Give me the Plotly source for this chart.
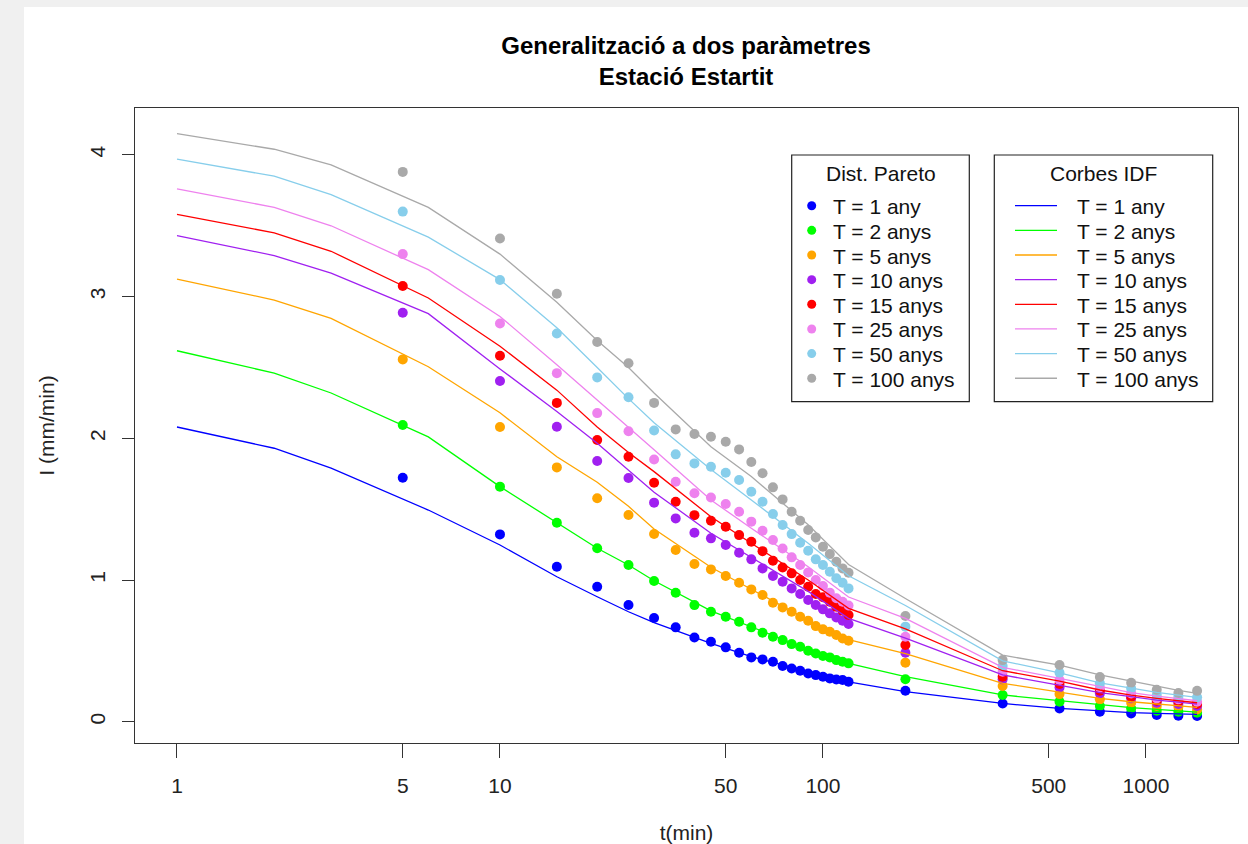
import plotly.graph_objects as go

# ---------------- data ----------------
t_points = [5, 10, 15, 20, 25, 30, 35, 40, 45, 50, 55, 60, 65, 70, 75, 80, 85, 90,
            95, 100, 105, 110, 115, 120, 180, 360, 540, 720, 900, 1080, 1260, 1440]
t_curve = [1, 2, 3, 6, 10, 15, 20, 25, 30, 45, 60, 90, 120, 180, 360, 540, 720,
           900, 1080, 1260, 1440]

labels = ["T = 1 any", "T = 2 anys", "T = 5 anys", "T = 10 anys",
          "T = 15 anys", "T = 25 anys", "T = 50 anys", "T = 100 anys"]
colors = ["#0000FF", "#00FF00", "#FFA500", "#A020F0",
          "#FF0000", "#EE82EE", "#87CEEB", "#A9A9A9"]

# Dist. Pareto (points)
pareto_T1 = [1.722, 1.322, 1.094, 0.953, 0.824, 0.732, 0.666, 0.595, 0.565, 0.525, 0.487, 0.454,
             0.440, 0.423, 0.393, 0.376, 0.360, 0.341, 0.329, 0.317, 0.306, 0.298, 0.294, 0.282,
             0.219, 0.129, 0.094, 0.071, 0.059, 0.047, 0.042, 0.040]
pareto_T2 = [2.094, 1.659, 1.404, 1.224, 1.106, 0.993, 0.910, 0.823, 0.776, 0.741, 0.706, 0.666,
             0.628, 0.600, 0.576, 0.548, 0.529, 0.501, 0.482, 0.464, 0.454, 0.435, 0.423, 0.412,
             0.300, 0.189, 0.141, 0.111, 0.094, 0.078, 0.071, 0.064]
pareto_T5 = [2.557, 2.080, 1.795, 1.577, 1.459, 1.325, 1.212, 1.113, 1.075, 1.028, 0.981, 0.934,
             0.894, 0.840, 0.807, 0.776, 0.741, 0.713, 0.675, 0.652, 0.635, 0.612, 0.588, 0.572,
             0.417, 0.252, 0.195, 0.158, 0.134, 0.111, 0.106, 0.087]
pareto_T10 = [2.886, 2.404, 2.082, 1.840, 1.720, 1.546, 1.435, 1.334, 1.294, 1.247, 1.193, 1.146,
              1.082, 1.028, 0.988, 0.941, 0.901, 0.859, 0.824, 0.793, 0.765, 0.736, 0.713, 0.690,
              0.487, 0.299, 0.242, 0.200, 0.165, 0.134, 0.125, 0.111]
pareto_T15 = [3.075, 2.583, 2.250, 1.988, 1.870, 1.686, 1.552, 1.458, 1.418, 1.376, 1.317, 1.270,
              1.204, 1.136, 1.089, 1.047, 1.000, 0.953, 0.901, 0.878, 0.847, 0.812, 0.784, 0.753,
              0.541, 0.318, 0.266, 0.219, 0.177, 0.148, 0.141, 0.125]
pareto_T25 = [3.300, 2.810, 2.460, 2.178, 2.050, 1.850, 1.694, 1.612, 1.583, 1.536, 1.482, 1.412,
              1.348, 1.282, 1.223, 1.160, 1.106, 1.054, 1.000, 0.958, 0.911, 0.871, 0.847, 0.820,
              0.600, 0.353, 0.294, 0.242, 0.200, 0.165, 0.158, 0.141]
pareto_T50 = [3.600, 3.117, 2.740, 2.430, 2.290, 2.055, 1.887, 1.823, 1.800, 1.757, 1.706, 1.623,
              1.553, 1.466, 1.388, 1.324, 1.263, 1.207, 1.146, 1.106, 1.059, 1.012, 0.981, 0.941,
              0.671, 0.393, 0.346, 0.271, 0.235, 0.188, 0.177, 0.172]
pareto_T100 = [3.880, 3.410, 3.020, 2.680, 2.530, 2.250, 2.063, 2.030, 2.011, 1.976, 1.922, 1.833,
               1.753, 1.654, 1.569, 1.482, 1.418, 1.353, 1.301, 1.235, 1.183, 1.129, 1.082, 1.052,
               0.746, 0.435, 0.400, 0.316, 0.275, 0.226, 0.203, 0.218]

# Corbes IDF (lines)
idf_T1 = [2.080, 1.930, 1.790, 1.494, 1.247, 1.023, 0.882, 0.776, 0.700, 0.553, 0.459, 0.353,
          0.282, 0.212, 0.129, 0.094, 0.075, 0.064, 0.059, 0.054, 0.052]
idf_T2 = [2.618, 2.460, 2.320, 2.010, 1.659, 1.404, 1.224, 1.106, 0.995, 0.783, 0.670, 0.510,
          0.412, 0.318, 0.189, 0.148, 0.118, 0.099, 0.087, 0.078, 0.068]
idf_T5 = [3.124, 2.976, 2.847, 2.505, 2.180, 1.870, 1.690, 1.520, 1.360, 1.090, 0.935, 0.717,
          0.580, 0.480, 0.271, 0.212, 0.165, 0.141, 0.125, 0.111, 0.101]
idf_T10 = [3.430, 3.290, 3.165, 2.880, 2.490, 2.190, 1.965, 1.776, 1.620, 1.330, 1.160, 0.920,
           0.730, 0.590, 0.330, 0.259, 0.205, 0.177, 0.153, 0.139, 0.125]
idf_T15 = [3.580, 3.450, 3.320, 2.990, 2.650, 2.340, 2.080, 1.900, 1.765, 1.447, 1.259, 1.000,
           0.800, 0.655, 0.360, 0.287, 0.224, 0.188, 0.165, 0.148, 0.134]
idf_T25 = [3.760, 3.630, 3.500, 3.190, 2.860, 2.520, 2.270, 2.080, 1.920, 1.565, 1.365, 1.094,
           0.880, 0.730, 0.384, 0.306, 0.247, 0.205, 0.181, 0.165, 0.148]
idf_T50 = [3.970, 3.850, 3.720, 3.420, 3.120, 2.780, 2.500, 2.280, 2.110, 1.780, 1.565, 1.260,
           1.030, 0.820, 0.430, 0.345, 0.275, 0.237, 0.207, 0.188, 0.172]
idf_T100 = [4.150, 4.040, 3.930, 3.630, 3.300, 2.960, 2.690, 2.500, 2.320, 1.940, 1.730, 1.390,
            1.110, 0.870, 0.470, 0.400, 0.330, 0.285, 0.248, 0.222, 0.200]

x_tickvals = [1, 5, 10, 50, 100, 500, 1000]
x_ticktext = ["1", "5", "10", "50", "100", "500", "1000"]
y_tickvals = [0, 1, 2, 3, 4]
y_ticktext = ["0", "1", "2", "3", "4"]

title_line1 = "Generalització a dos paràmetres"
title_line2 = "Estació Estartit"

pareto = [pareto_T1, pareto_T2, pareto_T5, pareto_T10, pareto_T15, pareto_T25, pareto_T50, pareto_T100]
idf = [idf_T1, idf_T2, idf_T5, idf_T10, idf_T15, idf_T25, idf_T50, idf_T100]

# ---------------- figure ----------------
W, H = 1248, 844
ML, MR, MT, MB = 135, 10, 108, 101
PW, PH = W - ML - MR, H - MT - MB
FONT = "Liberation Sans, Arial, Helvetica, sans-serif"


def fx(px):
    return (px - ML) / PW


def fy(py):
    return (H - MB - py) / PH


fig = go.Figure()

for name, col, vals in zip(labels, colors, pareto):
    fig.add_trace(go.Scatter(x=t_points, y=vals, mode="markers", name=name,
                             marker=dict(color=col, size=10, line=dict(width=0)),
                             legendgroup="pareto"))
for name, col, vals in zip(labels, colors, idf):
    fig.add_trace(go.Scatter(x=t_curve, y=vals, mode="lines", name=name,
                             line=dict(color=col, width=1.3), legendgroup="idf"))

shapes = []
annotations = []

# light grey screen border (top/left)
shapes.append(dict(type="rect", xref="paper", yref="paper", layer="below",
                   x0=fx(24), x1=fx(W + 20), y0=fy(H + 20), y1=fy(7),
                   fillcolor="white", line=dict(width=0)))

# manual legends (two boxes like R's legend())
box_top, box_bot = 155, 401.7
row0, drow = 205.7, 24.65
boxes = [
    dict(x0=791.7, x1=969.3, title="Dist. Pareto", kind="dot", sym=811.7, text=832.7),
    dict(x0=994.3, x1=1212.7, title="Corbes IDF", kind="line", sym=(1015, 1057), text=1076.7),
]
for b in boxes:
    shapes.append(dict(type="rect", xref="paper", yref="paper",
                       x0=fx(b["x0"]), x1=fx(b["x1"]), y0=fy(box_bot), y1=fy(box_top),
                       fillcolor="white", line=dict(color="#222", width=1.2)))
    annotations.append(dict(xref="paper", yref="paper", x=fx((b["x0"] + b["x1"]) / 2),
                            y=fy(173.3), text=b["title"], showarrow=False,
                            xanchor="center", yanchor="middle",
                            font=dict(size=21, family=FONT, color="#111")))
    for i, (name, col) in enumerate(zip(labels, colors)):
        ry = row0 + i * drow
        if b["kind"] == "dot":
            r = 4.5
            shapes.append(dict(type="circle", xref="paper", yref="paper",
                               x0=fx(b["sym"] - r), x1=fx(b["sym"] + r),
                               y0=fy(ry + r), y1=fy(ry - r),
                               fillcolor=col, line=dict(width=0)))
        else:
            shapes.append(dict(type="line", xref="paper", yref="paper",
                               x0=fx(b["sym"][0]), x1=fx(b["sym"][1]), y0=fy(ry), y1=fy(ry),
                               line=dict(color=col, width=1.3)))
        annotations.append(dict(xref="paper", yref="paper", x=fx(b["text"] - 2), y=fy(ry + 1),
                                text=name, showarrow=False, xanchor="left", yanchor="middle",
                                font=dict(size=21, family=FONT, color="#111")))

fig.update_layout(
    width=W, height=H,
    margin=dict(l=ML, r=MR, t=MT, b=MB, pad=0, autoexpand=False),
    paper_bgcolor="#f0f0f0", plot_bgcolor="white",
    showlegend=False,
    font=dict(family=FONT, size=21, color="#111"),
    title=dict(text="<b>" + title_line1 + "</b><br><b>" + title_line2 + "</b>",
               x=fx(686), xref="paper", xanchor="center",
               y=1 - 53.5 / H, yref="container", yanchor="middle",
               font=dict(size=24, family=FONT, color="black")),
    shapes=shapes,
    annotations=annotations,
)

fig.update_xaxes(type="log", range=[-0.130, 3.285], tickvals=x_tickvals, ticktext=x_ticktext,
                 automargin=False,
                 ticks="outside", ticklen=14, tickwidth=1.2, tickcolor="#333",
                 showline=True, mirror=True, linecolor="#333", linewidth=1.3,
                 showgrid=False, zeroline=False, ticklabelstandoff=10,
                 tickfont=dict(size=21, family=FONT, color="#222"),
                 title=dict(text="t(min)", standoff=30, font=dict(size=21, family=FONT, color="#222")))
fig.update_yaxes(range=[-0.150, 4.331], tickvals=y_tickvals, ticktext=y_ticktext,
                 automargin=False,
                 tickangle=-90,
                 ticks="outside", ticklen=12, tickwidth=1.2, tickcolor="#333",
                 showline=True, mirror=True, linecolor="#333", linewidth=1.3,
                 showgrid=False, zeroline=False, ticklabelstandoff=8,
                 tickfont=dict(size=21, family=FONT, color="#222"),
                 title=dict(text="I (mm/min)", standoff=26, font=dict(size=21, family=FONT, color="#222")))

fig.write_html("out.html", config={"displayModeBar": False},
               post_script="document.body.style.margin='0';document.body.style.overflow='hidden';")
